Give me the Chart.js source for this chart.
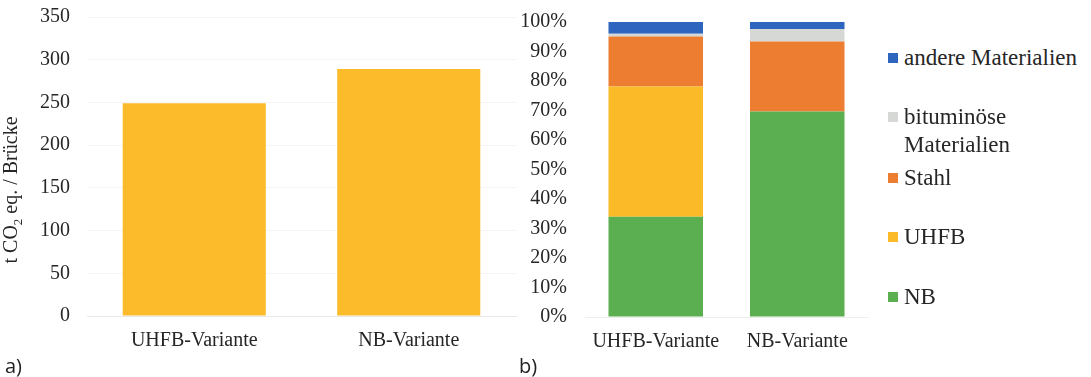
<!DOCTYPE html>
<html>
<head>
<meta charset="utf-8">
<script src="https://cdn.jsdelivr.net/npm/chart.js@4.4.1/dist/chart.umd.min.js"></script>
<style>
  body { margin: 0; width: 1091px; height: 377px; overflow: hidden; position: relative; background: #fff;
         font-family: "Liberation Serif", serif; color: #262626; }
  .box { position: absolute; top: 0; height: 358px; }
  #yTitle { position: absolute; left: 12px; top: 190px; font-size: 20px; white-space: nowrap;
            transform: translate(-50%, -50%) rotate(-90deg); }
  #yTitle sub { font-size: 13px; }
  .tag { position: absolute; top: 352px; font-family: "Open Sans", sans-serif; font-size: 20px; color: #222; }
  .item { position: absolute; left: 888px; width: 203px; font-size: 23px; line-height: 28px; }
  .item span.mark { position: absolute; left: 0; top: 9px; width: 10px; height: 10px; }
  .item span.txt { display: block; margin-left: 16px; }
</style>
</head>
<body>
<div class="box" style="left:0;width:525px"><canvas id="chartA"></canvas></div>
<div id="yTitle">t CO<sub>2</sub> eq. / Brücke</div>
<div class="box" style="left:505px;width:370px"><canvas id="chartB"></canvas></div>
<div id="legend"></div>
<div class="tag" style="left:5px">a)</div>
<div class="tag" style="left:519px">b)</div>
<script>
// Daten
const variants = ['UHFB-Variante', 'NB-Variante'];
const totalCO2 = [249, 289];          // t CO2 eq. je Brücke

const materials = ['NB', 'UHFB', 'Stahl', 'bituminöse Materialien', 'andere Materialien'];
const shareNB = [34.0, 69.7];
const shareUHFB = [44.1, 0];
const shareStahl = [17.0, 23.7];
const shareBitumen = [0.9, 4.2];
const shareAndere = [4.0, 2.4];
const materialColors = ['#5caf50', '#fbbb28', '#ed7d31', '#d6d8d6', '#2e66bf'];

const tickFont = { family: 'Liberation Serif', size: 20 };
const textColor = '#262626';

// a) Gesamtemissionen
new Chart(document.getElementById('chartA'), {
    type: 'bar',
    data: {
        labels: variants,
        datasets: [{
            data: totalCO2,
            backgroundColor: '#fbbb2a',
            barPercentage: 0.667,
            categoryPercentage: 1
        }]
    },
    options: {
        responsive: true,
        maintainAspectRatio: false,
        animation: false,
        layout: { padding: { top: 17, right: 9 } },
        plugins: { legend: { display: false }, tooltip: { enabled: false } },
        scales: {
            x: {
                grid: { display: false },
                border: { color: '#e8e8e8' },
                ticks: { font: tickFont, color: textColor, padding: 5, maxRotation: 0 },
                afterFit: s => { s.height = 42; }
            },
            y: {
                min: 0, max: 350,
                // unsichtbare Tick-Striche schaffen den Abstand zu den Beschriftungen
                grid: { color: '#f4f4f4', tickLength: 15, tickColor: 'rgba(0,0,0,0)' },
                border: { display: false },
                ticks: { stepSize: 50, font: tickFont, color: textColor, padding: 2 },
                afterFit: s => { s.width = 87; }
            }
        }
    }
});

// b) Anteile nach Material
const shares = [shareNB, shareUHFB, shareStahl, shareBitumen, shareAndere];
new Chart(document.getElementById('chartB'), {
    type: 'bar',
    data: {
        labels: variants,
        datasets: materials.map((m, i) => ({
            label: m,
            data: shares[i],
            backgroundColor: materialColors[i],
            barPercentage: 0.668,
            categoryPercentage: 1
        }))
    },
    options: {
        responsive: true,
        maintainAspectRatio: false,
        animation: false,
        layout: { padding: { top: 22, right: 7 } },
        plugins: { legend: { display: false }, tooltip: { enabled: false } },
        scales: {
            x: {
                stacked: true,
                grid: { display: false },
                border: { color: '#eeeeee' },
                ticks: { font: tickFont, color: textColor, padding: 5, maxRotation: 0 },
                afterFit: s => { s.height = 41; }
            },
            y: {
                stacked: true,
                min: 0, max: 100,
                grid: { drawOnChartArea: false, tickLength: 16, tickColor: 'rgba(0,0,0,0)' },
                border: { display: false },
                ticks: { stepSize: 10, font: tickFont, color: textColor, padding: 2,
                         callback: v => v + '%' },
                afterFit: s => { s.width = 80; }
            }
        }
    }
});

// Legende (oberstes Material zuerst)
const legendTops = [44, 103, 164, 223, 283];
const legend = document.getElementById('legend');
materials.slice().reverse().forEach((m, i) => {
    const item = document.createElement('div');
    item.className = 'item';
    item.style.top = legendTops[i] + 'px';
    item.innerHTML = '<span class="mark" style="background:' + materialColors[materials.length - 1 - i] +
        '"></span><span class="txt">' + m + '</span>';
    legend.appendChild(item);
});
</script>
</body>
</html>
